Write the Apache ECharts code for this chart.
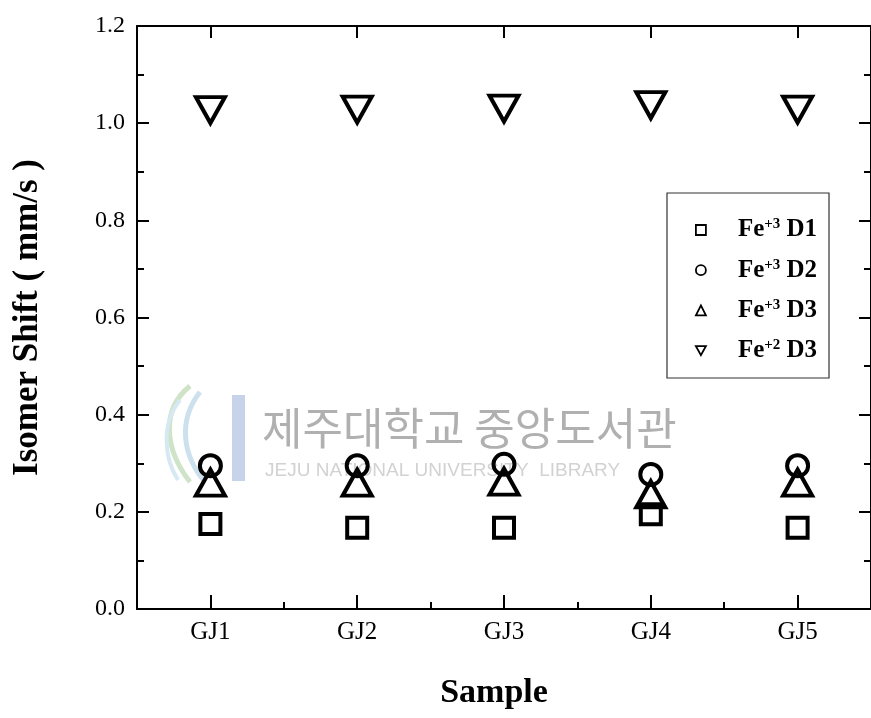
<!DOCTYPE html>
<html>
<head>
<meta charset="utf-8">
<script src="https://cdn.jsdelivr.net/npm/echarts@6/dist/echarts.min.js"></script>
<style>
html,body{margin:0;padding:0;background:#fff;}
#chart{width:871px;height:718px;}
</style>
</head>
<body>
<div id="chart"></div>
<script>
const categories = ['GJ1', 'GJ2', 'GJ3', 'GJ4', 'GJ5'];
const seriesNames = ['Fe+3 D1', 'Fe+3 D2', 'Fe+3 D3', 'Fe+2 D3'];
const fe3D1 = [0.175, 0.167, 0.167, 0.195, 0.167];
const fe3D2 = [0.295, 0.295, 0.298, 0.277, 0.295];
const fe3D3 = [0.260, 0.260, 0.262, 0.236, 0.260];
const fe2D3 = [1.027, 1.028, 1.030, 1.037, 1.028];
const yMin = 0, yMax = 1.2, yStep = 0.2;

const FONT = 'Liberation Serif';
const invTri = 'path://M0,0L10,0L5,9Z';

const chart = echarts.init(document.getElementById('chart'), null, {renderer: 'canvas'});

const markerStyle = {color: 'rgba(0,0,0,0)', borderColor: '#000', borderWidth: 4, opacity: 1};

function mk(name, data, symbol, size) {
  return {
    name: name, type: 'scatter', data: data, symbol: symbol, symbolSize: size,
    itemStyle: markerStyle, emphasis: {disabled: true}, z: 5
  };
}

const richLegend = {
  f: {fontFamily: FONT, fontWeight: 'bold', fontSize: 25, color: '#000', lineHeight: 26, padding: [0, 0, 0, 27]},
  b: {fontFamily: FONT, fontWeight: 'bold', fontSize: 25, color: '#000', lineHeight: 26},
  sup: {fontFamily: FONT, fontWeight: 'bold', fontSize: 15, color: '#000', lineHeight: 8, verticalAlign: 'top'}
};

const legendIcons = ['rect', 'circle', 'triangle', invTri];

function curve(x1, y1, c1x, c1y, c2x, c2y, x2, y2, color, w) {
  return {type: 'bezierCurve', shape: {x1: x1, y1: y1, cpx1: c1x, cpy1: c1y, cpx2: c2x, cpy2: c2y, x2: x2, y2: y2},
    style: {fill: 'none', stroke: color, lineWidth: w}, z: -1};
}

chart.setOption({
  animation: false,
  backgroundColor: '#fff',
  grid: {left: 137, width: 738, top: 26, bottom: 109, containLabel: false},
  xAxis: [
    {
      type: 'category', data: categories, position: 'bottom', boundaryGap: true,
      axisLine: {show: true, lineStyle: {color: '#000', width: 2}},
      axisTick: {show: true, inside: true, alignWithLabel: true, length: 14, lineStyle: {color: '#000', width: 2}},
      axisLabel: {fontFamily: FONT, fontSize: 25, color: '#000', margin: 11},
      splitLine: {show: false},
      name: 'Sample', nameLocation: 'middle', nameGap: 67,
      nameTextStyle: {fontFamily: FONT, fontWeight: 'bold', fontSize: 34, color: '#000', padding: [0, 20, 0, 0]}
    },
    {
      type: 'category', data: categories, position: 'bottom', boundaryGap: true,
      axisLine: {show: false},
      axisTick: {show: true, inside: true, alignWithLabel: false, length: 7, lineStyle: {color: '#000', width: 2}},
      axisLabel: {show: false}, splitLine: {show: false}
    },
    {
      type: 'category', data: categories, position: 'top', boundaryGap: true,
      axisLine: {show: true, lineStyle: {color: '#000', width: 2}},
      axisTick: {show: true, inside: true, alignWithLabel: true, length: 12, lineStyle: {color: '#000', width: 2}},
      axisLabel: {show: false}, splitLine: {show: false}
    }
  ],
  yAxis: [
    {
      type: 'value', min: yMin, max: yMax, interval: yStep, position: 'left',
      axisLine: {show: true, lineStyle: {color: '#000', width: 2}},
      axisTick: {show: true, inside: true, length: 12, lineStyle: {color: '#000', width: 2}},
      minorTick: {show: true, splitNumber: 2, length: 7, lineStyle: {color: '#000', width: 2}},
      axisLabel: {fontFamily: FONT, fontSize: 24, color: '#000', margin: 12, formatter: v => v.toFixed(1)},
      splitLine: {show: false}, minorSplitLine: {show: false},
      name: 'Isomer Shift ( mm/s )', nameLocation: 'middle', nameGap: 92, nameRotate: 90,
      nameTextStyle: {fontFamily: FONT, fontWeight: 'bold', fontSize: 35, color: '#000'}
    },
    {
      type: 'value', min: yMin, max: yMax, interval: yStep, position: 'right',
      axisLine: {show: true, lineStyle: {color: '#000', width: 2}},
      axisTick: {show: true, inside: true, length: 12, lineStyle: {color: '#000', width: 2}},
      minorTick: {show: true, splitNumber: 2, length: 7, lineStyle: {color: '#000', width: 2}},
      axisLabel: {show: false}, splitLine: {show: false}
    }
  ],
  legend: {
    orient: 'vertical', left: 695, top: 217, padding: 0,
    itemWidth: 10, itemHeight: 10, itemGap: 14.7, selectedMode: false,
    symbolKeepAspect: true,
    data: seriesNames.map((n, i) => ({
      name: n, icon: legendIcons[i],
      itemStyle: {color: '#fff', borderColor: '#000', borderWidth: 1.8, opacity: 1}
    })),
    formatter: function (name) {
      const m = name.match(/^Fe(\+\d) (D\d)$/);
      return '{f|Fe}{sup|' + m[1] + '}{b| ' + m[2] + '}';
    },
    textStyle: {rich: richLegend, fontFamily: FONT, fontWeight: 'bold', fontSize: 25, color: '#000'}
  },
  graphic: [
    {type: 'rect', shape: {x: 667, y: 193, width: 162, height: 185}, style: {fill: 'none', stroke: '#333', lineWidth: 1.2}, z: 10},
    curve(190, 386, 160, 410, 165, 450, 190, 482, '#cfe3c8', 5),
    curve(200, 392, 178, 420, 182, 455, 205, 482, '#cde0ee', 5),
    curve(180, 400, 160, 425, 165, 460, 178, 480, '#d6e8f2', 4),
    {type: 'rect', shape: {x: 232, y: 395, width: 13, height: 86}, style: {fill: '#c7d3ea'}, z: -1},
    {type: 'text', x: 262, y: 428, style: {text: '제주대학교 중앙도서관', font: '44px "Noto Sans CJK KR"', fill: '#b0b0b0', verticalAlign: 'middle', align: 'left'}, z: -1},
    {type: 'text', x: 265, y: 471, style: {text: 'JEJU NATIONAL UNIVERSITY  LIBRARY', font: '19px "Liberation Sans"', fill: '#d2d2d2', verticalAlign: 'middle', align: 'left'}, z: -1}
  ],
  series: [
    mk(seriesNames[0], fe3D1, 'rect', 20),
    mk(seriesNames[1], fe3D2, 'circle', 21),
    mk(seriesNames[2], fe3D3, 'triangle', [29, 26]),
    mk(seriesNames[3], fe2D3, invTri, [29, 26])
  ]
});
</script>
</body>
</html>
